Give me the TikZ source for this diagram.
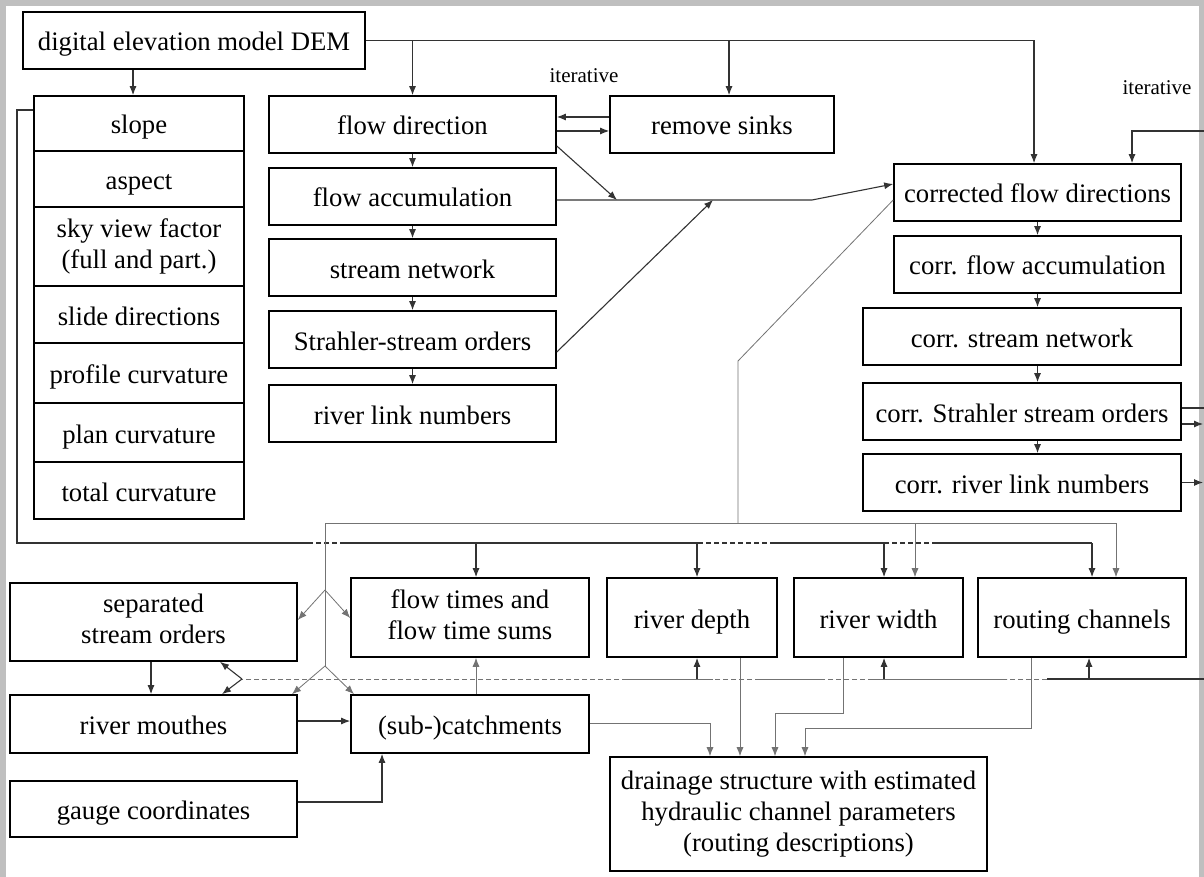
\documentclass[tikz,border=0pt]{standalone}
\usepackage{fontspec}
\setmainfont{Liberation Serif}
\usepackage{tikz}
\usetikzlibrary{arrows.meta, calc}
\tikzstyle{box}=[draw, line width=1.6pt, inner sep=0, minimum height=57, align=center, font=\fontsize{26.7}{31}\selectfont, execute at begin node={\rule[-6pt]{0pt}{33pt}}]
\tikzstyle{mbox}=[box, execute at begin node={}]
\tikzstyle{conn}=[line width=1.1pt, black!80]
\tikzstyle{arr}=[conn, -{Latex[length=9pt,width=7pt]}]
\tikzstyle{gconn}=[line width=0.8pt, black!55]
\tikzstyle{garr}=[gconn, -{Latex[length=9pt,width=7pt]}]
\tikzstyle{gap}=[dash pattern=on 5pt off 3pt]
\tikzstyle{note}=[font=\fontsize{21}{24}\selectfont]

\begin{document}
\begin{tikzpicture}[x=1pt, y=-1pt]
\useasboundingbox (0,0) rectangle (1204,877);
\fill[black!25] (0,0) rectangle (1204,877);
\fill[white] (6,6) rectangle (1199,877);
\draw (194,40.5) node[box, minimum width=342](dem){digital elevation model DEM};
\draw (139,123.5) node[box, minimum width=210, minimum height=55](slope){slope};
\draw (139,179) node[box, minimum width=210, minimum height=56](aspect){aspect};
\draw (139,246.5) node[mbox, minimum width=210, minimum height=79](sky){sky view factor\\(full and part.)};
\draw (139,314.5) node[box, minimum width=210](slide){slide directions};
\draw (139,373) node[box, minimum width=210, minimum height=60](profile){profile curvature};
\draw (139,432.5) node[box, minimum width=210, minimum height=59](plan){plan curvature};
\draw (139,490.5) node[box, minimum width=210](total){total curvature};
\draw (412.5,124.5) node[box, minimum width=287](flowdir){flow direction};
\draw (722,124.5) node[box, minimum width=224](sinks){remove sinks};
\draw (412.5,196.5) node[box, minimum width=287](flowacc){flow accumulation};
\draw (412.5,267.5) node[box, minimum width=287](streamnet){stream network};
\draw (412.5,339.5) node[box, minimum width=287](strahler){Strahler-stream orders};
\draw (412.5,413.5) node[box, minimum width=287](linknum){river link numbers};
\draw (1037.5,192.5) node[box, minimum width=287](cfd){corrected flow directions};
\draw (1037.5,264.5) node[box, minimum width=287](cfa){corr. flow accumulation};
\draw (1022,336.5) node[box, minimum width=318](csn){corr. stream network};
\draw (1022,411.5) node[box, minimum width=318](cso){corr. Strahler stream orders};
\draw (1022,482.5) node[box, minimum width=318](crl){corr. river link numbers};
\draw (153.5,622) node[mbox, minimum width=287, minimum height=78](sep){separated\\stream orders};
\draw (153.5,724) node[box, minimum width=287, minimum height=58](mouth){river mouthes};
\draw (153.5,809) node[box, minimum width=287, minimum height=56](gauge){gauge coordinates};
\draw (470,617.5) node[mbox, minimum width=238, minimum height=79](ftimes){flow times and\\flow time sums};
\draw (692,617.5) node[box, minimum width=170, minimum height=79](depth){river depth};
\draw (878.5,617.5) node[box, minimum width=169, minimum height=79](width){river width};
\draw (1082,617.5) node[box, minimum width=208, minimum height=79](routing){routing channels};
\draw (470,724) node[box, minimum width=238, minimum height=58](catch){(sub-)catchments};
\draw (798.5,814) node[mbox, minimum width=377, minimum height=114](drain){drainage structure with estimated\\hydraulic channel parameters\\(routing descriptions)};
\draw (584,76) node[note](it1){iterative};
\draw (1157,88) node[note](it2){iterative};
\coordinate (j1) at (617,200);
\coordinate (j2) at (713,200);
\coordinate (g1) at (738,361);
\coordinate (v1) at (325,590);
\coordinate (v2) at (325,666);
\coordinate (k1) at (242,679);
\draw[arr] (dem.south -| 133,0) -- (slope.north -| 133,0);
\draw[conn] (dem.east) -- (1034,40.5);
\draw[arr] (1034,40.5) -- (cfd.north -| 1034,0);
\draw[arr] (flowdir.north |- dem.east) -- (flowdir.north);
\draw[arr] (729,40.5) -- (sinks.north -| 729,0);
\draw[arr] ([yshift=7.5pt]sinks.west) -- ([yshift=7.5pt]flowdir.east);
\draw[arr] ([yshift=-6.5pt]flowdir.east) -- ([yshift=-6.5pt]sinks.west);
\draw[arr] (flowdir.south) -- (flowacc.north);
\draw[arr] (flowacc.south) -- (streamnet.north);
\draw[arr] (streamnet.south) -- (strahler.north);
\draw[arr] (strahler.south) -- (linknum.north);
\draw[arr] ([yshift=-21.5pt]flowdir.east) -- (j1);
\draw[arr] ([yshift=-12.5pt]strahler.east) -- (j2);
\draw[arr] (flowacc.east |- j1) -- (812,200) -- ([yshift=8.5pt]cfd.west);
\draw[arr] (cfd.south) -- (cfa.north);
\draw[arr] (cfa.south) -- (cfa.south |- csn.north);
\draw[arr] (cfa.south |- csn.south) -- (cfa.south |- cso.north);
\draw[arr] (cfa.south |- cso.south) -- (cfa.south |- crl.north);
\draw[arr] (1204,131) -| ([xshift=94.5pt]cfd.north);
\draw[conn] ([yshift=3.5pt]cso.east) -- (1204,408);
\draw[arr] ([yshift=-12.5pt]cso.east) -- (1203,424);
\draw[arr] (crl.east) -- (1203,482.5);
\draw[conn] ([yshift=13.5pt]slope.west) -- (17,110) -- (17,543) -- (308,543);
\draw[conn, gap] (308,543) -- (345,543);
\draw[conn] (345,543) -- (698,543);
\draw[conn, gap] (698,543) -- (770,543);
\draw[conn] (770,543) -- (884,543);
\draw[conn, gap] (884,543) -- (933,543);
\draw[conn] (933,543) -- (1092,543);
\draw[arr] (476,543) -- (ftimes.north -| 476,0);
\draw[arr] (697,543) -- (depth.north -| 697,0);
\draw[arr] (884,543) -- (width.north -| 884,0);
\draw[arr] (1092,543) -- (routing.north -| 1092,0);
\draw[gconn] ([yshift=-7.5pt]cfd.west) -- (g1) -- (738,523);
\draw[gconn] (325,523) -- (1116,523);
\draw[garr] (915,523) -- (width.north -| 915,0);
\draw[garr] (1116,523) -- (routing.north -| 1116,0);
\draw[gconn] (325,523) -- (v2);
\draw[garr] (v1) -- (sep.east |- 0,620);
\draw[garr] (v1) -- (ftimes.west |- 0,618);
\draw[garr] (v2) -- (mouth.north -| 292,0);
\draw[garr] (v2) -- (catch.north -| 354,0);
\draw[conn] (1204,679) -- (1047,679);
\draw[gconn, gap] (1047,679) -- (1007,679);
\draw[gconn] (1007,679) -- (873,679);
\draw[gconn, gap] (873,679) -- (820,679);
\draw[gconn] (820,679) -- (760,679);
\draw[gconn, gap] (760,679) -- (713,679);
\draw[gconn] (713,679) -- (627,679);
\draw[gconn, gap] (627,679) -- (k1);
\draw[arr] (1089,679) -- (routing.south -| 1089,0);
\draw[arr] (884,679) -- (width.south -| 884,0);
\draw[arr] (697,679) -- (depth.south -| 697,0);
\draw[arr] (k1) -- (sep.south -| 220,0);
\draw[arr] (k1) -- (mouth.north -| 222,0);
\draw[garr] (catch.north -| 476,0) -- (ftimes.south -| 476,0);
\draw[arr] (sep.south -| 151,0) -- (mouth.north -| 151,0);
\draw[arr] ([yshift=3pt]mouth.east) -- ([yshift=3pt]catch.west);
\draw[arr] ([yshift=7pt]gauge.east) -| ([xshift=-88pt]catch.south);
\draw[garr] ([yshift=1pt]catch.east) -| ([xshift=-88.5pt]drain.north);
\draw[garr] ([xshift=48pt]depth.south) -- ([xshift=48pt]depth.south |- drain.north);
\draw[garr] ([xshift=-35.5pt]width.south) -- (843,713) -| ([xshift=-23.5pt]drain.north);
\draw[garr] ([xshift=-51pt]routing.south) -- (1031,728) -| ([xshift=6.5pt]drain.north);
\end{tikzpicture}
\end{document}
